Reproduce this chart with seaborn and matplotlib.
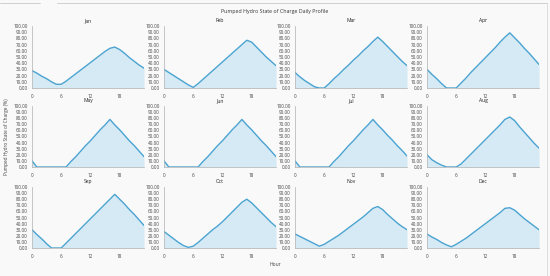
import numpy as np
import pandas as pd
import seaborn as sns
import matplotlib
matplotlib.use("Agg")
import matplotlib.pyplot as plt
from matplotlib.lines import Line2D
from matplotlib.ticker import FormatStrFormatter

# ---------- Data ----------
hours = list(range(24))
months = ["Jan", "Feb", "Mar", "Apr", "May", "Jun",
          "Jul", "Aug", "Sep", "Oct", "Nov", "Dec"]

jan = [28, 24, 19, 15, 10, 6, 6, 11, 17, 23, 29, 35, 41, 47, 53, 59, 64, 66, 62, 56, 49, 43, 37, 32]
feb = [30, 25, 20, 15, 10, 5, 1, 7, 14, 21, 28, 35, 42, 49, 56, 63, 70, 77, 74, 66, 58, 50, 43, 36]
mar = [25, 18, 12, 7, 2, 0, 0, 7, 15, 22, 30, 37, 45, 52, 60, 67, 75, 82, 75, 67, 59, 51, 43, 36]
apr = [30, 22, 15, 7, 0, 0, 0, 8, 16, 25, 33, 41, 49, 57, 65, 74, 82, 89, 81, 73, 64, 56, 47, 38]
may = [10, 0, 0, 0, 0, 0, 0, 0, 9, 17, 26, 35, 43, 52, 61, 69, 78, 69, 61, 52, 43, 35, 26, 17]
jun = [10, 0, 0, 0, 0, 0, 0, 0, 9, 17, 26, 35, 43, 52, 61, 69, 78, 69, 61, 52, 43, 35, 26, 17]
jul = [10, 0, 0, 0, 0, 0, 0, 0, 9, 17, 26, 35, 43, 52, 61, 69, 78, 69, 61, 52, 44, 35, 27, 18]
aug = [20, 12, 7, 3, 0, 0, 0, 5, 13, 21, 29, 37, 45, 53, 61, 69, 78, 82, 76, 66, 57, 48, 39, 31]
sep = [30, 22, 15, 7, 0, 0, 0, 8, 16, 24, 32, 40, 48, 56, 64, 72, 80, 88, 80, 72, 63, 55, 46, 37]
oct_ = [27, 21, 15, 9, 4, 1, 3, 9, 16, 23, 30, 36, 43, 51, 59, 67, 75, 80, 74, 66, 58, 50, 42, 35]
nov = [23, 19, 15, 11, 7, 3, 6, 11, 16, 21, 27, 33, 39, 45, 51, 58, 65, 68, 63, 55, 48, 41, 35, 30]
dec = [23, 18, 14, 9, 5, 2, 6, 11, 16, 22, 28, 34, 40, 46, 52, 58, 65, 66, 62, 55, 48, 42, 36, 30]

series = [jan, feb, mar, apr, may, jun, jul, aug, sep, oct_, nov, dec]

x_ticks = [0, 6, 12, 18]
y_ticks = list(range(0, 101, 10))

# ---------- Style ----------
sns.set_style("white")
plt.rcParams["font.family"] = ["Open Sans", "DejaVu Sans"]

line_color = "#4aa3d1"
fill_color = "#d5eaf5"
bg_color = "#f9f9f9"
text_color = "#444444"
spine_color = "#b0b0b0"

fig = plt.figure(figsize=(5.5, 2.76), dpi=100)
fig.patch.set_facecolor(bg_color)

W, H = 550.0, 276.0
col_x = [32, 164, 295, 427]
row_y = [(26, 88), (106, 167), (187, 248)]
ax_w = 112

for i, (name, vals) in enumerate(zip(months, series)):
    r, c = divmod(i, 4)
    top, bot = row_y[r]
    ax = fig.add_axes([col_x[c] / W, 1 - bot / H, ax_w / W, (bot - top) / H])
    ax.set_facecolor(bg_color)
    df = pd.DataFrame({"hour": hours, "soc": vals})
    ax.fill_between(df["hour"], df["soc"], 0, color=fill_color, lw=0)
    sns.lineplot(data=df, x="hour", y="soc", ax=ax, color=line_color, lw=1.0)
    ax.set_xlim(0, 23)
    ax.set_ylim(0, 100)
    ax.set_xticks(x_ticks)
    ax.set_yticks(y_ticks)
    ax.yaxis.set_major_formatter(FormatStrFormatter("%.2f"))
    ax.tick_params(labelsize=3.3, colors=text_color, length=1.5, width=0.4, pad=1.5,
                   color=spine_color)
    ax.tick_params(axis="x", pad=2.5)
    ax.set_xlabel("")
    ax.set_ylabel("")
    ax.set_title(name, fontsize=3.6, color="#222222", pad=3)
    for s in ["top", "right"]:
        ax.spines[s].set_visible(False)
    for s in ["left", "bottom"]:
        ax.spines[s].set_color(spine_color)
        ax.spines[s].set_linewidth(0.5)
    if name == "May":
        ax.set_ylabel("Pumped Hydro State of Charge (%)", fontsize=3.4,
                      color=text_color, labelpad=3)

fig.text(275 / W, 1 - 12 / H, "Pumped Hydro State of Charge Daily Profile",
         ha="center", va="center", fontsize=3.8, color="#333333")
fig.text(275 / W, 1 - 264 / H, "Hour", ha="center", va="center",
         fontsize=3.6, color=text_color)

# outer frame lines
fig.add_artist(Line2D([0, 40 / W], [1 - 3 / H, 1 - 3 / H], color="#c8c8c8", lw=0.6))
fig.add_artist(Line2D([57 / W, 547 / W], [1 - 3 / H, 1 - 3 / H], color="#c8c8c8", lw=0.6))
fig.add_artist(Line2D([547 / W, 547 / W], [1 - 3 / H, 0], color="#d8d8d8", lw=0.6))

fig.savefig("out.png", dpi=100, facecolor=fig.get_facecolor())
